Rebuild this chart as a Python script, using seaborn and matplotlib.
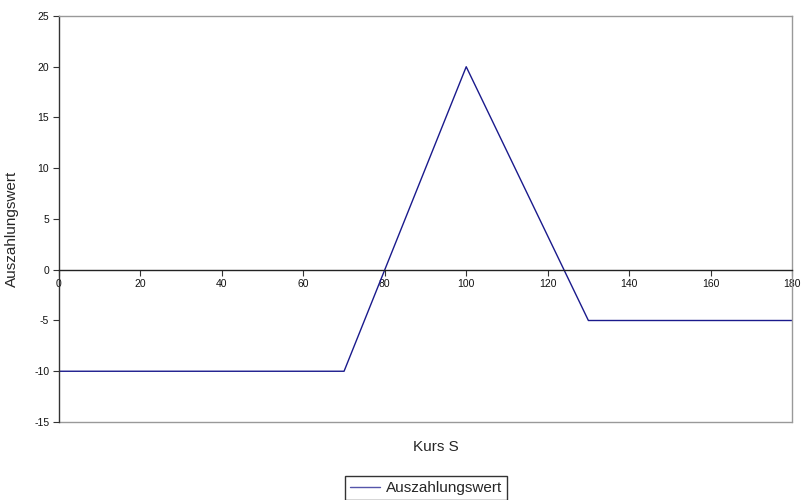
import matplotlib
matplotlib.use("Agg")
import matplotlib.pyplot as plt
import seaborn as sns
import pandas as pd

# Payoff profile (Kurs S vs. Auszahlungswert)
kurs = [0, 70, 100, 130, 180]
auszahlung = [-10, -10, 20, -5, -5]
x_ticks = [0, 20, 40, 60, 80, 100, 120, 140, 160, 180]
y_ticks = [-15, -10, -5, 0, 5, 10, 15, 20, 25]

df = pd.DataFrame({"Kurs S": kurs, "Auszahlungswert": auszahlung})

sns.set_style("white")
plt.rcParams["font.family"] = ["Liberation Sans", "DejaVu Sans"]
plt.rcParams["axes.unicode_minus"] = False

fig = plt.figure(figsize=(8.02, 5.0), dpi=100)
ax = fig.add_axes([59 / 802, 1 - 422 / 500, (792 - 59) / 802, (422 - 16) / 500])

sns.lineplot(data=df, x="Kurs S", y="Auszahlungswert", ax=ax,
             color="#1a1a8c", linewidth=1.0, label="Auszahlungswert",
             legend=False)

ax.set_xlim(0, 180)
ax.set_ylim(-15, 25)
ax.set_xticks(x_ticks)
ax.set_yticks(y_ticks)

# Frame: dark left axis, grey border, x axis through zero
ax.spines["left"].set_color("#333333")
ax.spines["left"].set_linewidth(1.0)
for s in ("top", "right"):
    ax.spines[s].set_color("#999999")
    ax.spines[s].set_linewidth(1.0)
ax.spines["bottom"].set_position(("data", 0))
ax.spines["bottom"].set_color("#222222")
ax.spines["bottom"].set_linewidth(1.0)
ax.axhline(-15, color="#999999", linewidth=1.0, clip_on=False, zorder=0)

ax.tick_params(axis="both", direction="out", length=4, width=0.8,
               color="#333333", labelsize=7.5, labelcolor="#111111")
ax.tick_params(axis="x", pad=3, bottom=True)
ax.tick_params(axis="y", pad=3, left=True)

ax.set_xlabel("")
ax.set_ylabel("Auszahlungswert", fontsize=11)
ax.yaxis.set_label_coords(-0.055, 0.475)
fig.text(436 / 802, 1 - 447 / 500, "Kurs S", ha="center", va="center",
         fontsize=11)

handles, labels = ax.get_lines()[:1], ["Auszahlungswert"]
leg = fig.legend(handles, labels, loc="center", bbox_to_anchor=(426 / 802, 1 - 488 / 500),
                 frameon=True, fancybox=False, fontsize=11, handlelength=2.0,
                 borderpad=0.3, handletextpad=0.4, borderaxespad=0)
leg.get_frame().set_edgecolor("black")
leg.get_frame().set_linewidth(1.0)
leg.get_lines()[0].set_color("#5555aa")

fig.savefig("out.png", dpi=100)
